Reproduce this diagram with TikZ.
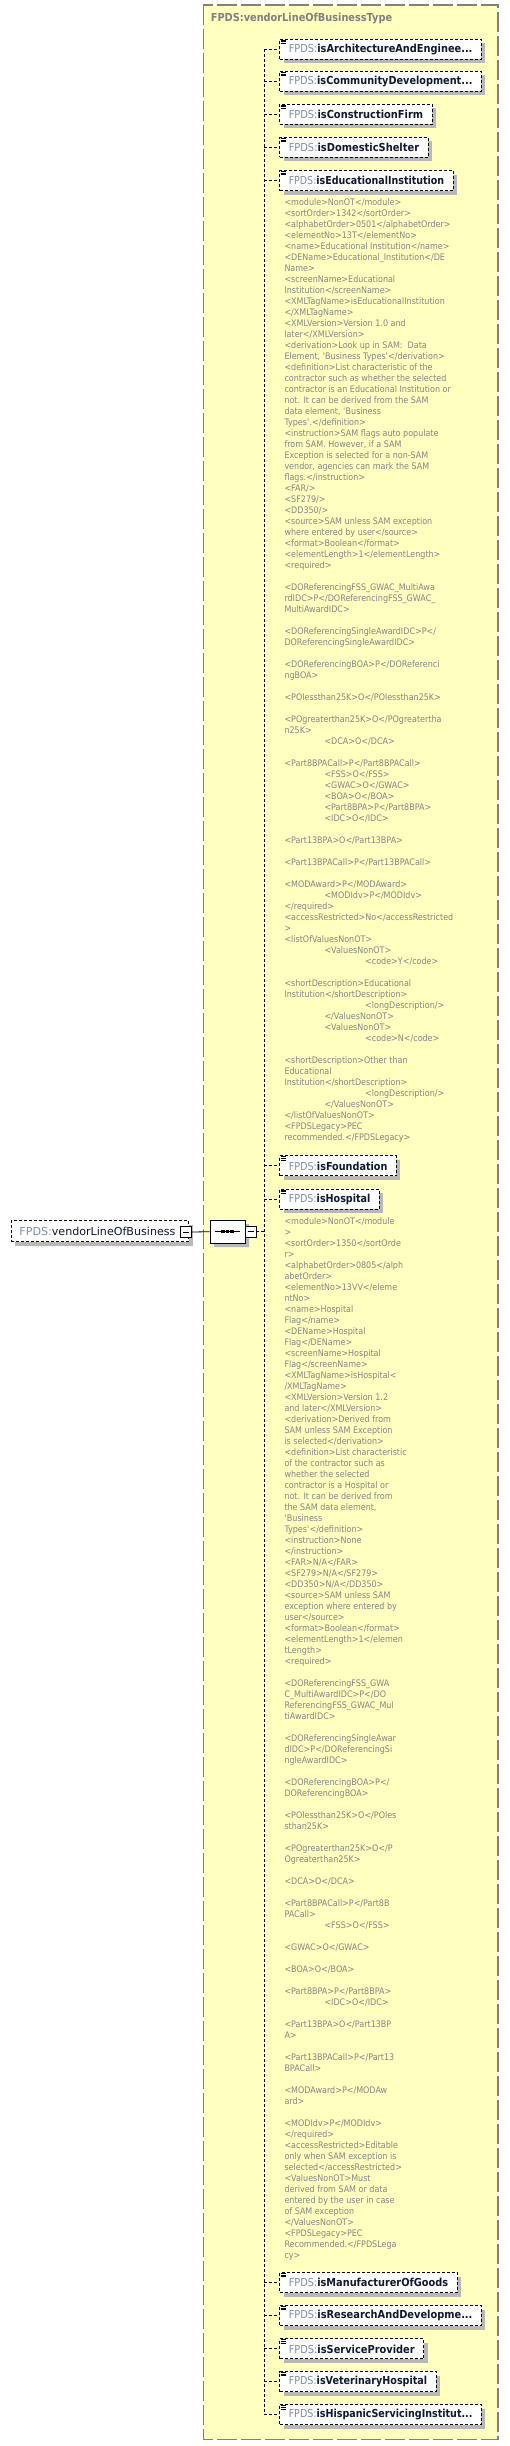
\documentclass[tikz,border=0pt]{standalone}
\usepackage{graphicx}
\usepackage{fontspec}
\setmainfont{DejaVu Sans}
\newfontfamily\boxfont{DejaVu Sans}
\newfontfamily\annfont{DejaVu Sans}[FakeStretch=0.89]
\usetikzlibrary{shapes.misc,shadows}
\definecolor{yel}{HTML}{FFFFC0}
\definecolor{bordergray}{HTML}{808080}
\definecolor{pfx}{HTML}{7F8FA6}
\definecolor{nm}{HTML}{101830}
\definecolor{anncol}{HTML}{858585}
\definecolor{shadowgray}{HTML}{B8B8B8}
\newcommand\q{\textquotesingle}
\newcommand\ia{\hspace*{40pt}}
\newcommand\ib{\hspace*{80.7pt}}
\newcommand\firstline{\rule{0pt}{9pt}}
\newcommand\fitw[2]{\resizebox{#1pt}{\height}{#2}}
\tikzset{
  conn/.style={draw=black, line width=0.9pt, dash pattern=on 3pt off 2pt},
  elembox/.style={draw=black, line width=0.9pt, dash pattern=on 3pt off 2pt, fill=white,
    minimum height=20pt, inner xsep=9pt, inner ysep=0pt, anchor=west,
    font=\boxfont\fontsize{11}{13}\selectfont,
    drop shadow={shadow xshift=4pt, shadow yshift=-4pt, fill=shadowgray, opacity=1}},
  minusbox/.style={draw=black, line width=0.8pt, fill=white, minimum size=11pt, inner sep=0pt},
  seqbox/.style={chamfered rectangle, chamfered rectangle xsep=6pt, chamfered rectangle ysep=6pt, draw=black, line width=0.8pt, fill=white,
    minimum width=35pt, minimum height=23pt, inner sep=0pt,
    drop shadow={shadow xshift=4pt, shadow yshift=-4pt, fill=shadowgray, opacity=1}},
  ann/.style={anchor=north west, align=left, inner sep=0pt, text=anncol,
    font=\annfont\fontsize{9}{11}\selectfont},
}
% name, y centre, text width, label, icon top
\newcommand\elem[5]{%
  \node[elembox] (#1) at (279.3,#2) {\fitw{#3}{\textcolor{pfx}{FPDS:}\textcolor{nm}{\bfseries #4}}};
  \draw[black, line width=0.7pt] (280.7,#5) -- +(5.3,0) (280.7,#5+1.7) -- +(5.3,0) (280.7,#5+3.4) -- +(5.3,0);
}
\begin{document}
\begin{tikzpicture}[x=1pt,y=-1pt]
\useasboundingbox (0,0) rectangle (509,2446);
% outer type box
\draw[bordergray, fill=yel, line width=1.5pt, dash pattern=on 20pt off 4pt] (203.3,5) rectangle (498,2439.3);
\node[anchor=west, inner sep=0pt, text=bordergray, font=\boxfont\bfseries\fontsize{11}{13}\selectfont] (title) at (210.7,19) {\fitw{181.3}{FPDS:vendorLineOfBusinessType}};

% child elements
\elem{A}{49.2}{183.7}{isArchitectureAndEnginee...}{40}
\elem{B}{81.4}{183.7}{isCommunityDevelopment...}{72.4}
\elem{C}{114.3}{134.4}{isConstructionFirm}{105}
\elem{D}{147.4}{130.4}{isDomesticShelter}{138.4}
\elem{E}{180.5}{155.4}{isEducationalInstitution}{171.4}
\elem{F}{1165.9}{98.7}{isFoundation}{1156.7}
\elem{G}{1199}{81.7}{isHospital}{1190}
\elem{H}{2282.7}{159.4}{isManufacturerOfGoods}{2273.4}
\elem{I}{2315.7}{183.7}{isResearchAndDevelopme...}{2306.4}
\elem{J}{2348.9}{126}{isServiceProvider}{2339.7}
\elem{K}{2381.5}{138.4}{isVeterinaryHospital}{2372.4}
\elem{L}{2414.7}{183.7}{isHispanicServicingInstitut...}{2405.7}

% vertical line and connectors
\coordinate (vx) at (264.3,0);
\draw[conn] (A.west -| vx) -- (L.west -| vx);
\foreach \n in {A,B,C,D,E,F,G,H,I,J,K,L} {
  \draw[conn] (\n.west -| vx) -- (\n.west);
}

% annotations
\node[ann] (annE) at (284.3,196.5) {%
\firstline<module>NonOT</module>\\
<sortOrder>1342</sortOrder>\\
<alphabetOrder>0501</alphabetOrder>\\
<elementNo>13T</elementNo>\\
<name>Educational Institution</name>\\
<DEName>Educational\_Institution</DE\\
Name>\\
<screenName>Educational\\
Institution</screenName>\\
<XMLTagName>isEducationalInstitution\\
</XMLTagName>\\
<XMLVersion>Version 1.0 and\\
later</XMLVersion>\\
<derivation>Look up in SAM:\ \ Data\\
Element, \q Business Types\q</derivation>\\
<definition>List characteristic of the\\
contractor such as whether the selected\\
contractor is an Educational Institution or\\
not. It can be derived from the SAM\\
data element, \q Business\\
Types\q.</definition>\\
<instruction>SAM flags auto populate\\
from SAM. However, if a SAM\\
Exception is selected for a non-SAM\\
vendor, agencies can mark the SAM\\
flags.</instruction>\\
<FAR/>\\
<SF279/>\\
<DD350/>\\
<source>SAM unless SAM exception\\
where entered by user</source>\\
<format>Boolean</format>\\
<elementLength>1</elementLength>\\
<required>\\[11pt]
<DOReferencingFSS\_GWAC\_MultiAwa\\
rdIDC>P</DOReferencingFSS\_GWAC\_\\
MultiAwardIDC>\\[11pt]
<DOReferencingSingleAwardIDC>P</\\
DOReferencingSingleAwardIDC>\\[11pt]
<DOReferencingBOA>P</DOReferenci\\
ngBOA>\\[11pt]
<POlessthan25K>O</POlessthan25K>\\[11pt]
<POgreaterthan25K>O</POgreatertha\\
n25K>\\
\ia<DCA>O</DCA>\\[11pt]
<Part8BPACall>P</Part8BPACall>\\
\ia<FSS>O</FSS>\\
\ia<GWAC>O</GWAC>\\
\ia<BOA>O</BOA>\\
\ia<Part8BPA>P</Part8BPA>\\
\ia<IDC>O</IDC>\\[11pt]
<Part13BPA>O</Part13BPA>\\[11pt]
<Part13BPACall>P</Part13BPACall>\\[11pt]
<MODAward>P</MODAward>\\
\ia<MODIdv>P</MODIdv>\\
</required>\\
<accessRestricted>No</accessRestricted\\
>\\
<listOfValuesNonOT>\\
\ia<ValuesNonOT>\\
\ib<code>Y</code>\\[11pt]
<shortDescription>Educational\\
Institution</shortDescription>\\
\ib<longDescription/>\\
\ia</ValuesNonOT>\\
\ia<ValuesNonOT>\\
\ib<code>N</code>\\[11pt]
<shortDescription>Other than\\
Educational\\
Institution</shortDescription>\\
\ib<longDescription/>\\
\ia</ValuesNonOT>\\
</listOfValuesNonOT>\\
<FPDSLegacy>PEC\\
recommended.</FPDSLegacy>};

\node[ann] (annG) at (284.3,1215) {%
\firstline<module>NonOT</module\\
>\\
<sortOrder>1350</sortOrde\\
r>\\
<alphabetOrder>0805</alph\\
abetOrder>\\
<elementNo>13VV</eleme\\
ntNo>\\
<name>Hospital\\
Flag</name>\\
<DEName>Hospital\\
Flag</DEName>\\
<screenName>Hospital\\
Flag</screenName>\\
<XMLTagName>isHospital<\\
/XMLTagName>\\
<XMLVersion>Version 1.2\\
and later</XMLVersion>\\
<derivation>Derived from\\
SAM unless SAM Exception\\
is selected</derivation>\\
<definition>List characteristic\\
of the contractor such as\\
whether the selected\\
contractor is a Hospital or\\
not. It can be derived from\\
the SAM data element,\\
\q Business\\
Types\q</definition>\\
<instruction>None\\
</instruction>\\
<FAR>N/A</FAR>\\
<SF279>N/A</SF279>\\
<DD350>N/A</DD350>\\
<source>SAM unless SAM\\
exception where entered by\\
user</source>\\
<format>Boolean</format>\\
<elementLength>1</elemen\\
tLength>\\
<required>\\[11pt]
<DOReferencingFSS\_GWA\\
C\_MultiAwardIDC>P</DO\\
ReferencingFSS\_GWAC\_Mul\\
tiAwardIDC>\\[11pt]
<DOReferencingSingleAwar\\
dIDC>P</DOReferencingSi\\
ngleAwardIDC>\\[11pt]
<DOReferencingBOA>P</\\
DOReferencingBOA>\\[11pt]
<POlessthan25K>O</POles\\
sthan25K>\\[11pt]
<POgreaterthan25K>O</P\\
Ogreaterthan25K>\\[11pt]
<DCA>O</DCA>\\[11pt]
<Part8BPACall>P</Part8B\\
PACall>\\
\ia<FSS>O</FSS>\\[11pt]
<GWAC>O</GWAC>\\[11pt]
<BOA>O</BOA>\\[11pt]
<Part8BPA>P</Part8BPA>\\
\ia<IDC>O</IDC>\\[11pt]
<Part13BPA>O</Part13BP\\
A>\\[11pt]
<Part13BPACall>P</Part13\\
BPACall>\\[11pt]
<MODAward>P</MODAw\\
ard>\\[11pt]
<MODIdv>P</MODIdv>\\
</required>\\
<accessRestricted>Editable\\
only when SAM exception is\\
selected</accessRestricted>\\
<ValuesNonOT>Must\\
derived from SAM or data\\
entered by the user in case\\
of SAM exception\\
</ValuesNonOT>\\
<FPDSLegacy>PEC\\
Recommended.</FPDSLega\\
cy>};

% root element
\node[elembox, inner xsep=8pt, minimum height=21pt] (root) at (11,1231.2)
  {\makebox[161.3pt][l]{\fitw{156}{\textcolor{pfx}{FPDS:}\textcolor{nm}{vendorLineOfBusiness}}}};
\node[minusbox] (rootm) at (186.3,1232) {\rule{6pt}{0.9pt}};
% sequence compositor
\node[seqbox] (seq) at (227.5,1231.7) {};
\draw[black, line width=0.8pt] ([xshift=-12.5pt]seq.center) -- ([xshift=12.5pt]seq.center);
\foreach \dx in {-4.5,0,4.5} {
  \fill[black] ([xshift=\dx pt]seq.center) +(-1.6,-1.6) rectangle +(1.6,1.6);
}
\node[minusbox] (seqm) at (250.5,1231.7) {\rule{6pt}{0.9pt}};
\draw[black, line width=0.8pt] (rootm.east) -- (seq.west);
\draw[conn] (seqm.east) -- (seqm.east -| vx);
\end{tikzpicture}
\end{document}
